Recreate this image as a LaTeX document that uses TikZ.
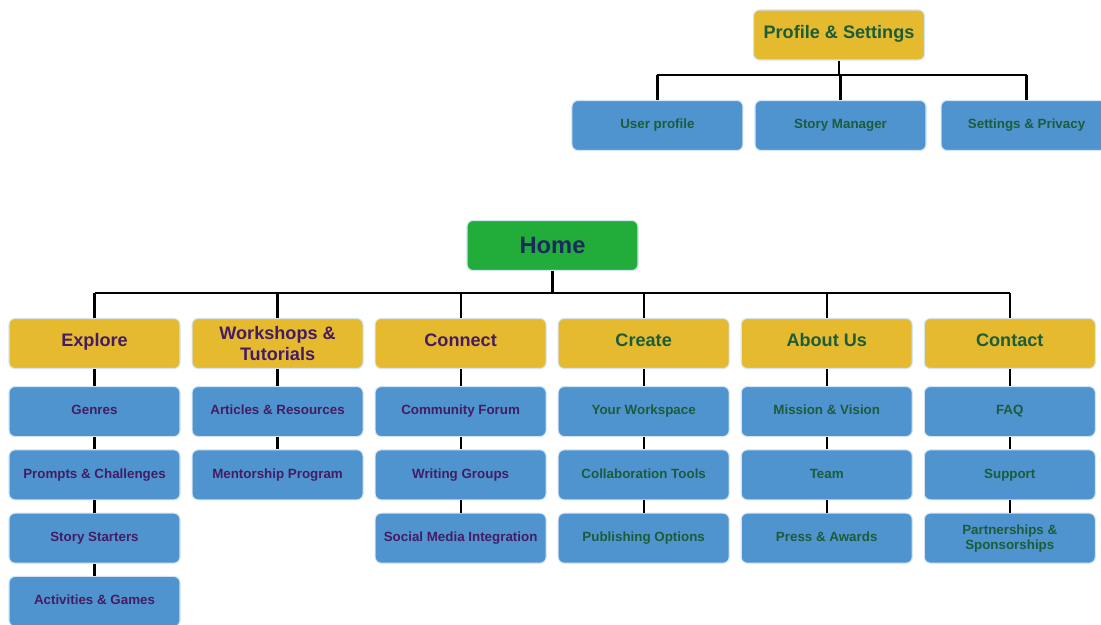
\documentclass[tikz,border=0pt]{standalone}
\usepackage{fontspec}
\setmainfont{Liberation Sans}
\usepackage{tikz}
\usetikzlibrary{calc, positioning}
\definecolor{catYellow}{HTML}{E5BA2F}
\definecolor{leafBlue}{HTML}{4F94CE}
\definecolor{homeGreen}{HTML}{22AD3A}
\definecolor{textPurple}{HTML}{451C63}
\definecolor{textGreen}{HTML}{1B5C3A}
\definecolor{textNavy}{HTML}{1A2A5C}

\begin{document}
\begin{tikzpicture}[
    box/.style={rounded corners=3.5pt, draw=white!75!leafBlue, line width=0.6pt,
        minimum width=3.42cm, minimum height=1cm, inner sep=2pt, align=center},
    cat/.style={box, fill=catYellow, text=#1, text height=1.5ex, text depth=0.8ex,
        font=\fontsize{10.3}{11.5}\selectfont\bfseries},
    cat/.default=textPurple,
    leaf/.style={box, fill=leafBlue, text=#1, text height=1.5ex, text depth=0.8ex,
        font=\fontsize{7.6}{8.8}\selectfont\bfseries},
    leaf/.default=textPurple,
    link/.style={draw=black, line width=1.25pt},
]
    \useasboundingbox (0,0) rectangle (22.02,-12.5);

    % profile branch
    \node[cat=textGreen] (profile) at (16.78,-0.70) {Profile \& Settings};
    \node[leaf=textGreen] (story) at (16.81,-2.51) {Story Manager};
    \node[leaf=textGreen, left=0.22cm of story] (user) {User profile};
    \node[leaf=textGreen, right=0.28cm of story] (privacy) {Settings \& Privacy};
    \coordinate (pbus) at ($(story.north)+(0,0.5)$);
    \draw[link] (profile.south) -- (profile.south |- pbus);
    \draw[link] (user.north |- pbus) -- (privacy.north |- pbus);
    \foreach \n in {user, story, privacy}
        \draw[link] (\n.north) -- (\n.north |- pbus);

    % home and sections
    \node[box, fill=homeGreen, text=textNavy,
        font=\fontsize{13.5}{15}\selectfont\bfseries] (home) at (11.05,-4.91) {Home};
    \node[cat] (explore) at (1.89,-6.87) {Explore};
    \node[cat, right=0.22cm of explore, text height=, text depth=] (workshops) {Workshops \&\\Tutorials};
    \node[cat, right=0.22cm of workshops] (connect) {Connect};
    \node[cat=textGreen, right=0.22cm of connect] (create) {Create};
    \node[cat=textGreen, right=0.22cm of create] (about) {About Us};
    \node[cat=textGreen, right=0.22cm of about] (contact) {Contact};
    \coordinate (bus) at ($(explore.north)+(0,0.5)$);
    \draw[link] (home.south) -- (home.south |- bus);
    \draw[link] (explore.north |- bus) -- (contact.north |- bus);
    \foreach \n in {explore, workshops, connect, create, about, contact}
        \draw[link] (\n.north) -- (\n.north |- bus);

    % explore
    \node[leaf, below=0.34cm of explore] (genres) {Genres};
    \node[leaf, below=0.245cm of genres] (prompts) {Prompts \& Challenges};
    \node[leaf, below=0.245cm of prompts] (starters) {Story Starters};
    \node[leaf, below=0.245cm of starters] (games) {Activities \& Games};

    % workshops
    \node[leaf, below=0.34cm of workshops] (articles) {Articles \& Resources};
    \node[leaf, below=0.245cm of articles] (mentor) {Mentorship Program};

    % connect
    \node[leaf, below=0.34cm of connect] (forum) {Community Forum};
    \node[leaf, below=0.245cm of forum] (groups) {Writing Groups};
    \node[leaf, below=0.245cm of groups] (social) {Social Media Integration};

    % create
    \node[leaf=textGreen, below=0.34cm of create] (workspace) {Your Workspace};
    \node[leaf=textGreen, below=0.245cm of workspace] (tools) {Collaboration Tools};
    \node[leaf=textGreen, below=0.245cm of tools] (publish) {Publishing Options};

    % about us
    \node[leaf=textGreen, below=0.34cm of about] (mission) {Mission \& Vision};
    \node[leaf=textGreen, below=0.245cm of mission] (team) {Team};
    \node[leaf=textGreen, below=0.245cm of team] (press) {Press \& Awards};

    % contact
    \node[leaf=textGreen, below=0.34cm of contact] (faq) {FAQ};
    \node[leaf=textGreen, below=0.245cm of faq] (support) {Support};
    \node[leaf=textGreen, below=0.245cm of support, text height=, text depth=,
        font=\fontsize{7.6}{8.6}\selectfont\bfseries] (partners) {Partnerships \&\\Sponsorships};

    \foreach \a/\b in {explore/genres, genres/prompts, prompts/starters, starters/games,
        workshops/articles, articles/mentor,
        connect/forum, forum/groups, groups/social,
        create/workspace, workspace/tools, tools/publish,
        about/mission, mission/team, team/press,
        contact/faq, faq/support, support/partners}
        \draw[link] (\a.south) -- (\b.north);
\end{tikzpicture}
\end{document}
